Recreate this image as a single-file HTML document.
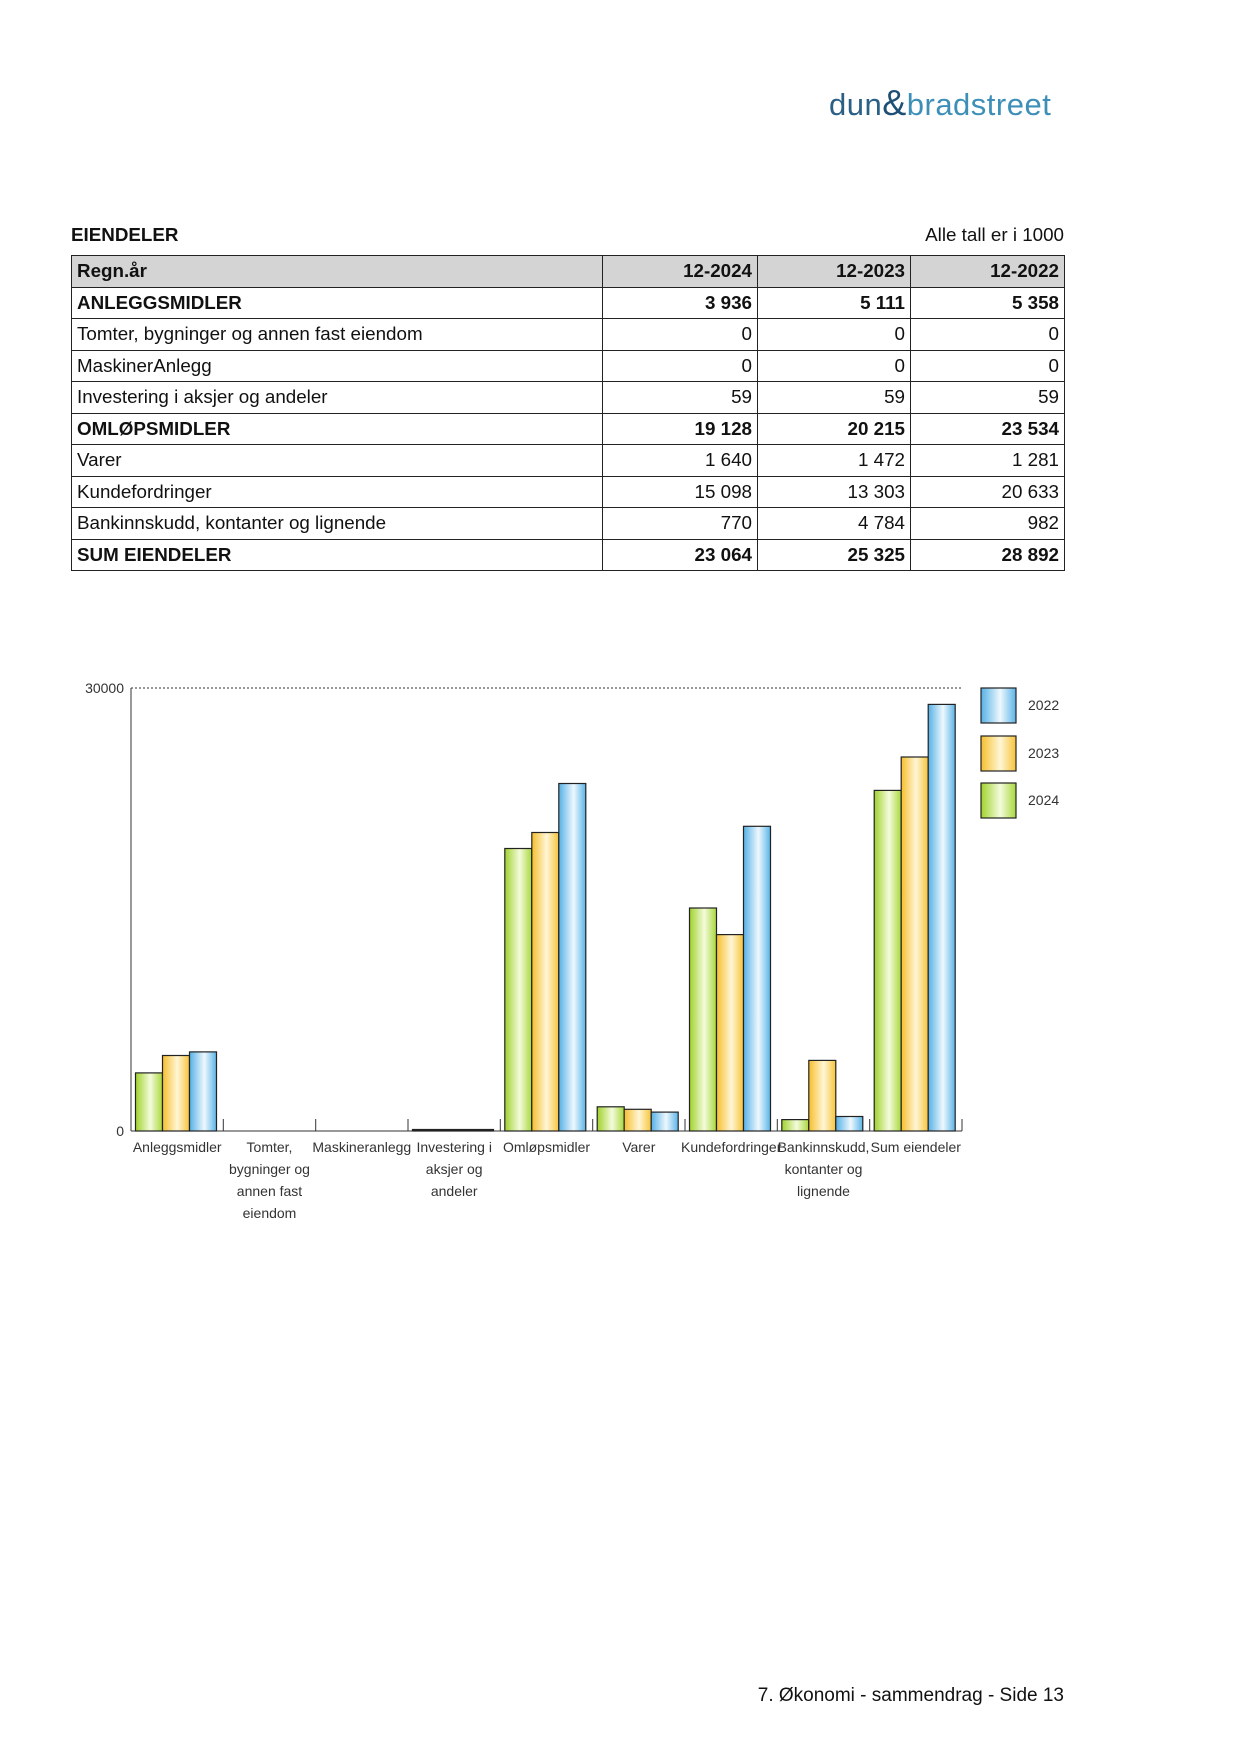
<!DOCTYPE html>
<html><head><meta charset="utf-8"><style>
body{margin:0;background:#fff;font-family:"Liberation Sans",Arial,sans-serif;color:#111}
.page{position:relative;width:1241px;height:1754px;overflow:hidden}
table{position:absolute;left:71px;top:255px;border-collapse:collapse;font-size:18.8px;table-layout:fixed;width:993px}
td{border:1px solid #222;height:31.5px;padding:0 5px;box-sizing:border-box;white-space:nowrap}
td.n{text-align:right}
tr.h td{background:#d4d4d4;font-weight:bold}
tr.b td{font-weight:bold}
</style></head><body><div class="page">
<div style="position:absolute;left:829px;top:82px;font-size:31px;color:#2a5f86;letter-spacing:0.5px;white-space:nowrap">dun<span style="color:#1e4f74;font-size:36px">&amp;</span><span style="color:#3d8fb8">bradstreet</span></div>
<div style="position:absolute;left:71px;top:224px;font-size:18.8px;font-weight:bold">EIENDELER</div>
<div style="position:absolute;right:177px;top:224px;font-size:18.8px">Alle tall er i 1000</div>
<table>
<colgroup><col style="width:531px"><col style="width:155px"><col style="width:153px"><col style="width:154px"></colgroup>
<tr class="h"><td>Regn.år</td><td class="n">12-2024</td><td class="n">12-2023</td><td class="n">12-2022</td></tr>
<tr class="b"><td>ANLEGGSMIDLER</td><td class="n">3 936</td><td class="n">5 111</td><td class="n">5 358</td></tr>
<tr><td>Tomter, bygninger og annen fast eiendom</td><td class="n">0</td><td class="n">0</td><td class="n">0</td></tr>
<tr><td>MaskinerAnlegg</td><td class="n">0</td><td class="n">0</td><td class="n">0</td></tr>
<tr><td>Investering i aksjer og andeler</td><td class="n">59</td><td class="n">59</td><td class="n">59</td></tr>
<tr class="b"><td>OMLØPSMIDLER</td><td class="n">19 128</td><td class="n">20 215</td><td class="n">23 534</td></tr>
<tr><td>Varer</td><td class="n">1 640</td><td class="n">1 472</td><td class="n">1 281</td></tr>
<tr><td>Kundefordringer</td><td class="n">15 098</td><td class="n">13 303</td><td class="n">20 633</td></tr>
<tr><td>Bankinnskudd, kontanter og lignende</td><td class="n">770</td><td class="n">4 784</td><td class="n">982</td></tr>
<tr class="b"><td>SUM EIENDELER</td><td class="n">23 064</td><td class="n">25 325</td><td class="n">28 892</td></tr>
</table>
<svg style="position:absolute;left:0;top:0" width="1241" height="1754" font-family="Liberation Sans,Arial,sans-serif">
<defs>
<linearGradient id="g" x1="0" x2="1"><stop offset="0" stop-color="#9fd22c"/><stop offset="0.55" stop-color="#f4fbdc"/><stop offset="1" stop-color="#a8d83c"/></linearGradient>
<linearGradient id="y" x1="0" x2="1"><stop offset="0" stop-color="#f6be2c"/><stop offset="0.55" stop-color="#fff6d6"/><stop offset="1" stop-color="#f7c43a"/></linearGradient>
<linearGradient id="b" x1="0" x2="1"><stop offset="0" stop-color="#55b0e6"/><stop offset="0.55" stop-color="#eef8fe"/><stop offset="1" stop-color="#5ab4e8"/></linearGradient>
</defs>
<line x1="131" y1="688" x2="962" y2="688" stroke="#333" stroke-dasharray="2,2"/>
<line x1="131" y1="688" x2="131" y2="1131" stroke="#333"/>
<line x1="131" y1="1131" x2="962" y2="1131" stroke="#333"/>
<text x="124" y="693" font-size="14" text-anchor="end" fill="#333">30000</text>
<text x="124" y="1136" font-size="14" text-anchor="end" fill="#333">0</text>
<g stroke="#333" stroke-width="1">
<line x1="223.3" y1="1119" x2="223.3" y2="1131"/><line x1="315.7" y1="1119" x2="315.7" y2="1131"/><line x1="408" y1="1119" x2="408" y2="1131"/><line x1="500.3" y1="1119" x2="500.3" y2="1131"/><line x1="592.7" y1="1119" x2="592.7" y2="1131"/><line x1="685" y1="1119" x2="685" y2="1131"/><line x1="777.3" y1="1119" x2="777.3" y2="1131"/><line x1="869.7" y1="1119" x2="869.7" y2="1131"/><line x1="962" y1="1119" x2="962" y2="1131"/>
</g>
<g stroke="#222" stroke-width="1.2">
<rect x="135.5" y="1072.9" width="27" height="58.1" fill="url(#g)"/><rect x="162.5" y="1055.5" width="27" height="75.5" fill="url(#y)"/><rect x="189.5" y="1051.9" width="27" height="79.1" fill="url(#b)"/>
<rect x="412.5" y="1129.5" width="81" height="1.5" fill="#222"/>
<rect x="504.8" y="848.5" width="27" height="282.5" fill="url(#g)"/><rect x="531.8" y="832.5" width="27" height="298.5" fill="url(#y)"/><rect x="558.8" y="783.5" width="27" height="347.5" fill="url(#b)"/>
<rect x="597.2" y="1106.8" width="27" height="24.2" fill="url(#g)"/><rect x="624.2" y="1109.3" width="27" height="21.7" fill="url(#y)"/><rect x="651.2" y="1112.1" width="27" height="18.9" fill="url(#b)"/>
<rect x="689.5" y="908" width="27" height="223" fill="url(#g)"/><rect x="716.5" y="934.6" width="27" height="196.4" fill="url(#y)"/><rect x="743.5" y="826.3" width="27" height="304.7" fill="url(#b)"/>
<rect x="781.8" y="1119.6" width="27" height="11.4" fill="url(#g)"/><rect x="808.8" y="1060.4" width="27" height="70.6" fill="url(#y)"/><rect x="835.8" y="1116.5" width="27" height="14.5" fill="url(#b)"/>
<rect x="874.2" y="790.4" width="27" height="340.6" fill="url(#g)"/><rect x="901.2" y="757" width="27" height="374" fill="url(#y)"/><rect x="928.2" y="704.4" width="27" height="426.6" fill="url(#b)"/>
<rect x="981" y="688" width="35" height="35" fill="url(#b)"/><rect x="981" y="736" width="35" height="35" fill="url(#y)"/><rect x="981" y="783" width="35" height="35" fill="url(#g)"/>
</g>
<g font-size="14" fill="#333">
<text x="1028" y="710">2022</text><text x="1028" y="758">2023</text><text x="1028" y="805">2024</text>
</g>
<g font-size="14" fill="#333" text-anchor="middle">
<text x="177.2" y="1152">Anleggsmidler</text>
<text x="269.5" y="1152">Tomter,</text><text x="269.5" y="1174">bygninger og</text><text x="269.5" y="1196">annen fast</text><text x="269.5" y="1218">eiendom</text>
<text x="361.8" y="1152">Maskineranlegg</text>
<text x="454.2" y="1152">Investering i</text><text x="454.2" y="1174">aksjer og</text><text x="454.2" y="1196">andeler</text>
<text x="546.5" y="1152">Omløpsmidler</text>
<text x="638.8" y="1152">Varer</text>
<text x="731.2" y="1152">Kundefordringer</text>
<text x="823.5" y="1152">Bankinnskudd,</text><text x="823.5" y="1174">kontanter og</text><text x="823.5" y="1196">lignende</text>
<text x="915.8" y="1152">Sum eiendeler</text>
</g>
</svg>
<div style="position:absolute;right:177px;top:1685px;font-size:19px">7. Økonomi - sammendrag - Side 13</div>
</div></body></html>
